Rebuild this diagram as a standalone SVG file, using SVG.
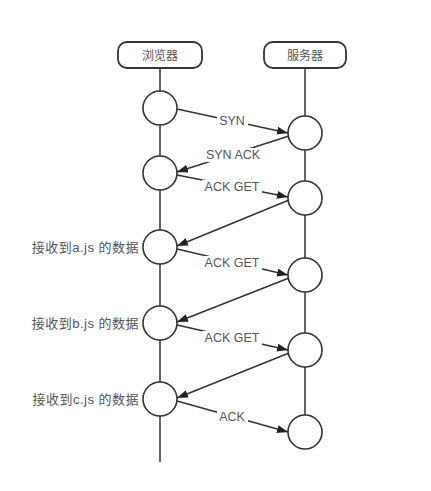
<svg xmlns="http://www.w3.org/2000/svg" width="431" height="491" viewBox="0 0 431 491">
<defs>
<style>
.box{fill:#fff;stroke:#333;stroke-width:1.8}
.life{stroke:#333;stroke-width:1.5;fill:none}
.cir{fill:#fff;stroke:#333;stroke-width:1.6}
.msg{stroke:#333;stroke-width:1.5;fill:none;marker-end:url(#ah)}
.bg{fill:#fff}
.t{font-family:"Liberation Sans","Noto Sans CJK SC",sans-serif;fill:#555}
.bt{font-size:12px;text-anchor:middle;dominant-baseline:central}
.lbl{font-size:12.5px;text-anchor:middle;dominant-baseline:central}
.side{font-size:13px;text-anchor:end;dominant-baseline:central;letter-spacing:0.5px}
</style>
<marker id="ah" markerWidth="12" markerHeight="10" refX="11" refY="4" orient="auto" markerUnits="userSpaceOnUse">
<path d="M0,0 L11,4 L0,8 Z" fill="#222"/>
</marker>
</defs>
<rect width="431" height="491" fill="#fff"/>
<g id="lifelines">
<line class="life" x1="160" y1="68" x2="160" y2="462"/>
<line class="life" x1="305" y1="68" x2="305" y2="415"/>
</g>
<g id="browser">
<rect class="box" x="118" y="42" width="84" height="26" rx="9"/>
<text class="t bt" x="160" y="55.5">浏览器</text>
</g>
<g id="server">
<rect class="box" x="264" y="42" width="82" height="26" rx="9"/>
<text class="t bt" x="305" y="55.5">服务器</text>
</g>
<g id="b1"><circle class="cir" cx="160" cy="108" r="17"/></g>
<g id="b2"><circle class="cir" cx="160" cy="173" r="17"/></g>
<g id="b3"><circle class="cir" cx="160" cy="247" r="17"/><text class="t side" x="139" y="247">接收到a.js 的数据</text></g>
<g id="b4"><circle class="cir" cx="160" cy="323" r="17"/><text class="t side" x="139" y="323">接收到b.js 的数据</text></g>
<g id="b5"><circle class="cir" cx="160" cy="399" r="17"/><text class="t side" x="139" y="399">接收到c.js 的数据</text></g>
<g id="s1"><circle class="cir" cx="305" cy="133" r="17"/></g>
<g id="s2"><circle class="cir" cx="305" cy="198" r="17"/></g>
<g id="s3"><circle class="cir" cx="305" cy="275" r="17"/></g>
<g id="s4"><circle class="cir" cx="305" cy="350" r="17"/></g>
<g id="s5"><circle class="cir" cx="305" cy="432" r="17"/></g>
<g id="connectors">
<line class="msg" x1="177" y1="109" x2="288" y2="133"/>
<line class="msg" x1="289" y1="136" x2="177" y2="172"/>
<line class="msg" x1="177" y1="175" x2="288" y2="197"/>
<line class="msg" x1="289" y1="200" x2="177" y2="246"/>
<line class="msg" x1="177" y1="249" x2="288" y2="275"/>
<line class="msg" x1="289" y1="278" x2="177" y2="322"/>
<line class="msg" x1="177" y1="325" x2="288" y2="350"/>
<line class="msg" x1="289" y1="353" x2="177" y2="398"/>
<line class="msg" x1="177" y1="401" x2="288" y2="432"/>
<rect class="bg" x="217" y="114" width="31" height="14"/>
<text class="t lbl" x="232" y="121">SYN</text>
<rect class="bg" x="203" y="148" width="60" height="14"/>
<text class="t lbl" x="233" y="155">SYN ACK</text>
<rect class="bg" x="202" y="180" width="60" height="14"/>
<text class="t lbl" x="232" y="187">ACK GET</text>
<rect class="bg" x="202" y="256" width="60" height="14"/>
<text class="t lbl" x="232" y="263">ACK GET</text>
<rect class="bg" x="202" y="331" width="60" height="14"/>
<text class="t lbl" x="232" y="338">ACK GET</text>
<rect class="bg" x="217" y="410" width="31" height="14"/>
<text class="t lbl" x="232" y="417">ACK</text>
</g>
</svg>
